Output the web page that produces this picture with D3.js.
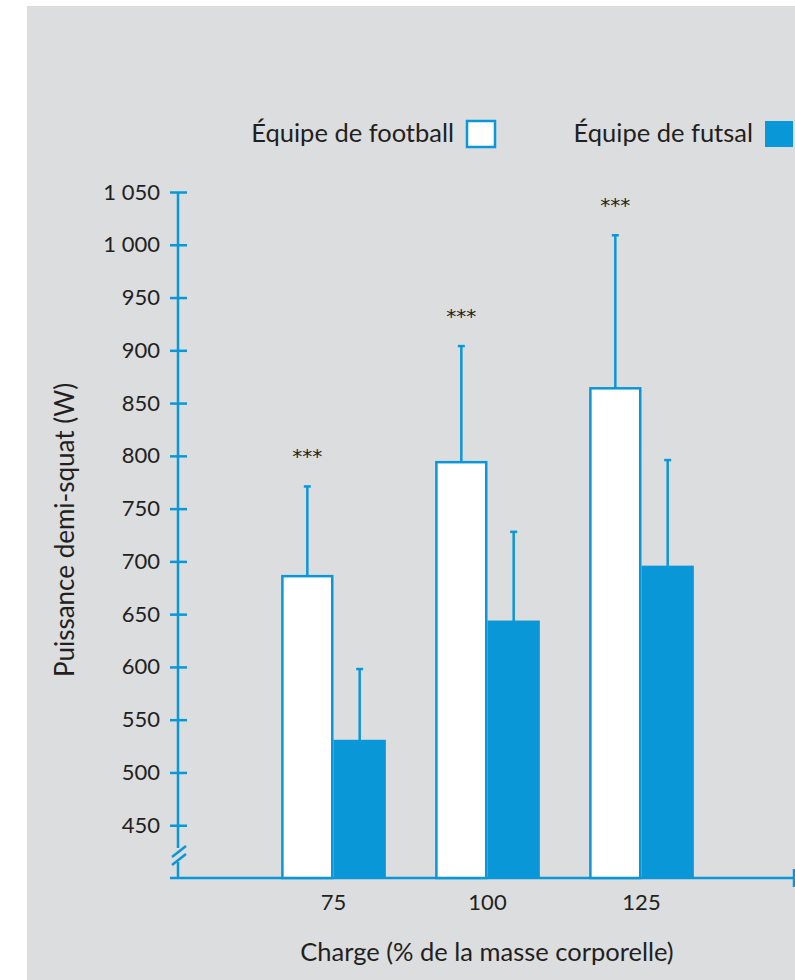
<!DOCTYPE html>
<html>
<head>
<meta charset="utf-8">
<script src="https://cdn.jsdelivr.net/npm/d3@7"></script>
<style>
  body { margin: 0; background: #fff; }
  text { font-family: "Source Sans Pro", Lato, "Noto Sans", sans-serif; fill: #231f20; }
</style>
</head>
<body>
<div id="chart"></div>
<script>
const categories = ['75', '100', '125'];
const series = ['Équipe de football', 'Équipe de futsal'];
const football = [686, 794, 864];
const footballErr = [771, 904, 1009];
const futsal = [530, 643, 695];
const futsalErr = [598, 728, 796];
const yTicks = [450, 500, 550, 600, 650, 700, 750, 800, 850, 900, 950, 1000, 1050];
const significance = ['***', '***', '***'];

const width = 795, height = 980;
const blue = '#0a97d8';

const svg = d3.select('#chart')
  .append('svg')
  .attr('width', width)
  .attr('height', height);

// grey panel
svg.append('rect')
  .attr('x', 27).attr('y', 6)
  .attr('width', width - 27).attr('height', height - 6)
  .attr('fill', '#dcdddf');

const y = d3.scaleLinear().domain([400, 1050]).range([878, 192]);
const x = d3.scaleBand().domain(categories).range([256.5, 718.5]).paddingInner(0.32).paddingOuter(0.16);
const xs = d3.scaleBand().domain(series).range([0, x.bandwidth()]);

const axisX = 178;

// y axis
const yAxis = svg.append('g')
  .attr('transform', `translate(${axisX},0)`)
  .call(d3.axisLeft(y).tickValues(yTicks).tickSize(8).tickPadding(10)
    .tickFormat(d => d3.format(',')(d).replace(',', '\u00a0')));
yAxis.select('.domain').remove();
yAxis.selectAll('.tick line').attr('x1', 9).attr('stroke', blue).attr('stroke-width', 2.5);
yAxis.selectAll('.tick text').attr('font-size', 22).attr('fill', '#231f20')
  .attr('font-family', '"Source Sans Pro", Lato, "Noto Sans", sans-serif');

// axis line with break
svg.append('line').attr('x1', axisX).attr('x2', axisX)
  .attr('y1', y(1050)).attr('y2', 848).attr('stroke', blue).attr('stroke-width', 2.5);
svg.append('line').attr('x1', axisX).attr('x2', axisX)
  .attr('y1', 862).attr('y2', y(400)).attr('stroke', blue).attr('stroke-width', 2.5);
[0, 8].forEach(o => {
  svg.append('line')
    .attr('x1', 172).attr('y1', 857 + o)
    .attr('x2', 186).attr('y2', 846 + o)
    .attr('stroke', blue).attr('stroke-width', 2.5);
});

// x axis
svg.append('line')
  .attr('x1', 170).attr('x2', width)
  .attr('y1', y(400)).attr('y2', y(400))
  .attr('stroke', blue).attr('stroke-width', 2.5);
svg.append('line')
  .attr('x1', width - 1).attr('x2', width - 1)
  .attr('y1', y(400) - 9).attr('y2', y(400) + 9)
  .attr('stroke', blue).attr('stroke-width', 2.5);

svg.selectAll('.xlabel')
  .data(categories)
  .join('text')
    .attr('class', 'xlabel')
    .attr('x', d => x(d) + x.bandwidth() / 2)
    .attr('y', 910)
    .attr('text-anchor', 'middle')
    .attr('font-size', 22)
    .text(d => d);

// bars
const groups = svg.selectAll('.grp')
  .data(categories.map((c, i) => ({
    c,
    vals: [
      {s: series[0], v: football[i], e: footballErr[i]},
      {s: series[1], v: futsal[i], e: futsalErr[i]}
    ]
  })))
  .join('g')
    .attr('class', 'grp')
    .attr('transform', d => `translate(${x(d.c)},0)`);

// error bars drawn first
groups.selectAll('.err')
  .data(d => d.vals)
  .join('g')
  .each(function(d) {
    const g = d3.select(this);
    const cx = xs(d.s) + xs.bandwidth() / 2;
    g.append('line').attr('x1', cx).attr('x2', cx)
      .attr('y1', y(d.v)).attr('y2', y(d.e))
      .attr('stroke', blue).attr('stroke-width', 2.5);
    g.append('line').attr('x1', cx - 3.5).attr('x2', cx + 3.5)
      .attr('y1', y(d.e)).attr('y2', y(d.e))
      .attr('stroke', blue).attr('stroke-width', 2.5);
  });

groups.selectAll('.bar')
  .data(d => d.vals)
  .join('rect')
    .attr('class', 'bar')
    .attr('x', (d, i) => i === 0 ? xs(d.s) + 1.25 : xs(d.s))
    .attr('width', (d, i) => i === 0 ? xs.bandwidth() - 2.5 : xs.bandwidth())
    .attr('y', (d, i) => i === 0 ? y(d.v) : y(d.v) - 1)
    .attr('height', (d, i) => i === 0 ? y(400) - y(d.v) : y(400) - y(d.v) + 1)
    .attr('fill', (d, i) => i === 0 ? '#fff' : blue)
    .attr('stroke', (d, i) => i === 0 ? blue : 'none')
    .attr('stroke-width', 2.5);

// significance stars
svg.selectAll('.sig')
  .data(categories)
  .join('text')
    .attr('class', 'sig')
    .attr('x', (d) => x(d) + xs(series[0]) + xs.bandwidth() / 2)
    .attr('y', (d, i) => y(footballErr[i]) - 23)
    .attr('text-anchor', 'middle')
    .attr('font-size', 20)
    .style('font-family', '"DejaVu Sans", sans-serif')
    .text((d, i) => significance[i]);

// axis titles
svg.append('text')
  .attr('transform', 'translate(74,530) rotate(-90)')
  .attr('text-anchor', 'middle')
  .attr('font-size', 26)
  .text('Puissance demi-squat (W)');

svg.append('text')
  .attr('x', 487).attr('y', 961)
  .attr('text-anchor', 'middle')
  .attr('font-size', 25.5)
  .text('Charge (% de la masse corporelle)');

// legend
const legend = [
  {label: series[0], tx: 454, bx: 467, fill: '#fff', stroke: blue},
  {label: series[1], tx: 753, bx: 765, fill: blue, stroke: 'none'}
];
legend.forEach(l => {
  svg.append('text')
    .attr('x', l.tx).attr('y', 142)
    .attr('text-anchor', 'end')
    .attr('font-size', 25.5)
    .text(l.label);
  svg.append('rect')
    .attr('x', l.bx).attr('y', 121)
    .attr('width', 28).attr('height', 26)
    .attr('fill', l.fill)
    .attr('stroke', l.stroke)
    .attr('stroke-width', 2.5);
});
</script>
</body>
</html>
